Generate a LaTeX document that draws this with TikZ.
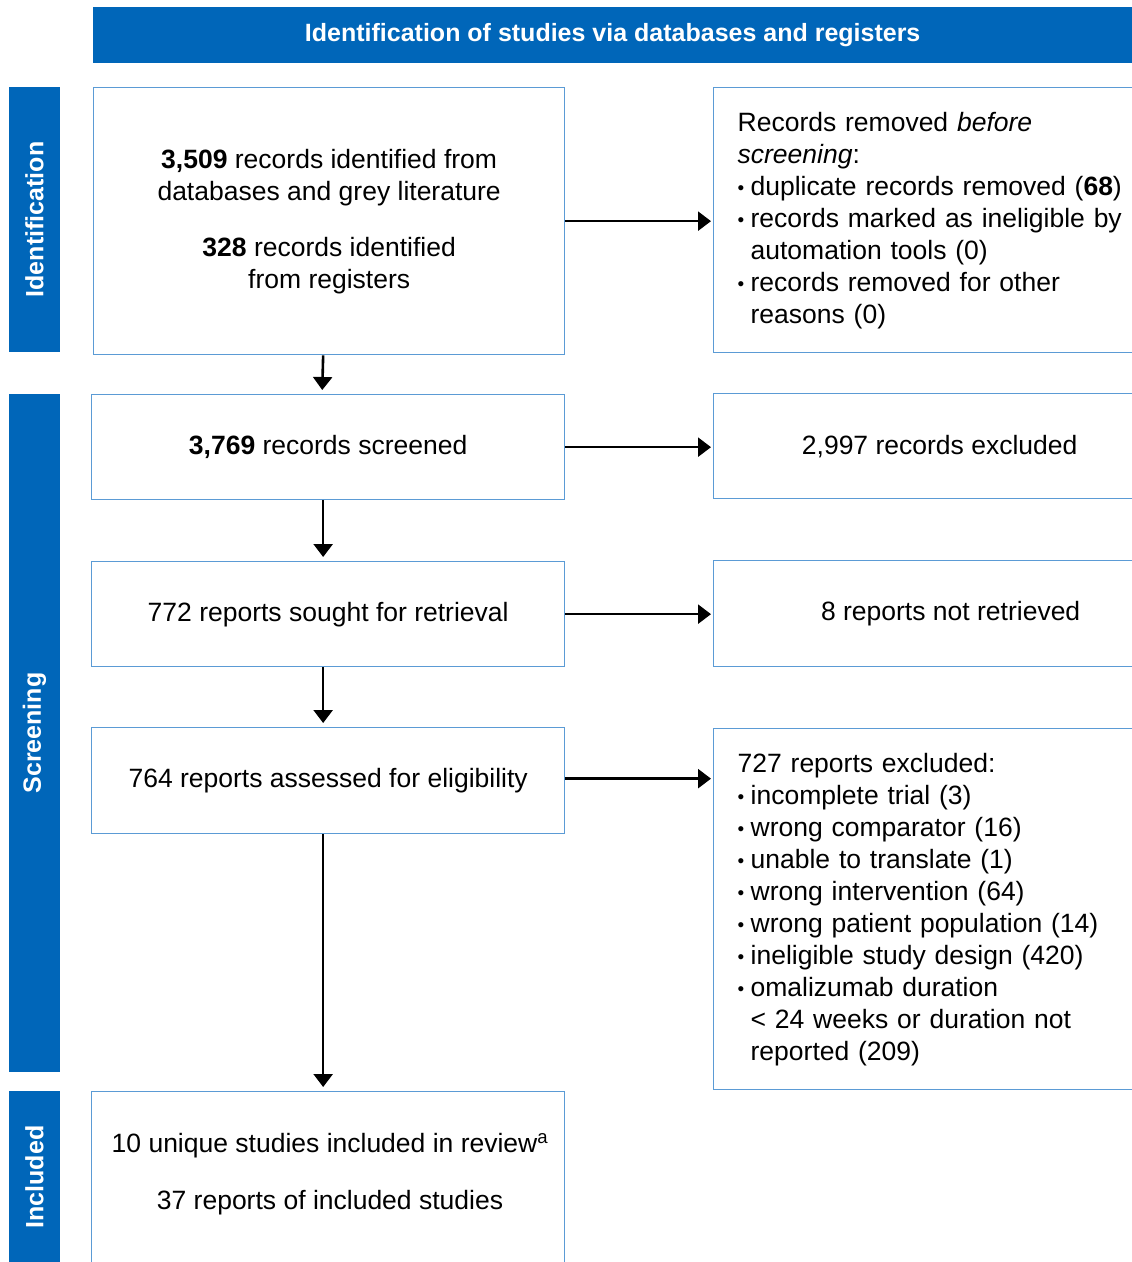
\documentclass[tikz,border=0pt]{standalone}
\usepackage{fontspec}
\setmainfont{Liberation Sans}
\usetikzlibrary{arrows.meta,positioning}
\definecolor{prismablue}{RGB}{0,102,185}
\definecolor{boxline}{RGB}{91,155,213}
\newcommand{\itm}{\makebox[13pt][l]{\raisebox{1pt}{\fontsize{19}{19}\selectfont\textbullet}}}
\newcommand{\ind}{\hspace*{13pt}}
\tikzset{
  box/.style={draw=boxline, line width=1.3pt, inner sep=0pt, align=center, font=\fontsize{26.5}{32}\selectfont},
  listbox/.style={box, align=left, inner xsep=24pt, text width=395pt},
  bar/.style={fill=prismablue, text=white, inner sep=0pt, font=\bfseries\fontsize{25}{30}\selectfont},
  flow/.style={line width=2.6pt, -{Triangle[length=13pt,width=19pt]}},
}
\begin{document}
\begin{tikzpicture}[x=1pt,y=-1pt]
\useasboundingbox (0,0) rectangle (1132,1262);
% header and phase bars
\node[bar, minimum width=1039pt, minimum height=56pt, anchor=north west] (head) at (93,7) {Identification of studies via databases and registers};
\node[bar, rotate=90, minimum width=265pt, minimum height=51pt] (idbar) at (34.5,219.5) {Identification};
\node[bar, rotate=90, minimum width=678pt, minimum height=51pt] (scbar) at (34.5,733) {Screening};
\node[bar, rotate=90, minimum width=172pt, minimum height=51pt] (inbar) at (34.5,1177) {Included};

% left column
\node[box, minimum width=471pt, minimum height=267pt, anchor=north west] (ident) at (93,87)
  {\textbf{3,509} records identified from\\databases and grey literature\\[24pt]\textbf{328} records identified\\from registers};
\node[box, minimum width=473pt, minimum height=105pt, anchor=north west] (screen) at (91,394) {\textbf{3,769} records screened};
\node[box, minimum width=473pt, minimum height=105pt, anchor=north west] (retr) at (91,561) {772 reports sought for retrieval};
\node[box, minimum width=473pt, minimum height=106pt, anchor=north west] (elig) at (91,727) {764 reports assessed for eligibility};
\node[box, minimum width=473pt, minimum height=200pt, anchor=north west] (incl) at (91,1091) {};
\node[align=center, font=\fontsize{26.5}{32}\selectfont, inner sep=0pt] (incltext) at (330,1174)
  {10 unique studies included in review\textsuperscript{a}\\[25pt]37 reports of included studies};

% right column
\node[listbox, minimum height=265pt, anchor=north west] (rem) at (713,87)
  {Records removed \textit{before}\\\textit{screening}:\\
   \itm duplicate records removed (\textbf{68})\\
   \itm records marked as ineligible by\\\ind automation tools (0)\\
   \itm records removed for other\\\ind reasons (0)};
\node[box, minimum width=452pt, minimum height=105pt, anchor=north west] (excl) at (713,393) {2,997 records excluded};
\node[box, minimum width=474pt, minimum height=106pt, anchor=north west] (notret) at (713,560) {8 reports not retrieved};
\node[listbox, minimum height=361pt, anchor=north west] (repexcl) at (713,728)
  {727 reports excluded:\\
   \itm incomplete trial (3)\\
   \itm wrong comparator (16)\\
   \itm unable to translate (1)\\
   \itm wrong intervention (64)\\
   \itm wrong patient population (14)\\
   \itm ineligible study design (420)\\
   \itm omalizumab duration\\\ind < 24 weeks or duration not\\\ind reported (209)};

% arrows
\draw[flow, shorten >=4pt] ([xshift=-6pt]ident.south) -- ([xshift=-6pt]screen.north);
\draw[flow, shorten >=4pt] ([xshift=-5pt]screen.south) -- ([xshift=-5pt]retr.north);
\draw[flow, shorten >=4pt] ([xshift=-5pt]retr.south) -- ([xshift=-5pt]elig.north);
\draw[flow, shorten >=4pt] ([xshift=-5pt]elig.south) -- ([xshift=-5pt]incl.north);
\draw[flow, shorten >=2pt] (ident.east) -- (ident.east -| rem.west);
\draw[flow, shorten >=2pt] (screen.east) -- (screen.east -| excl.west);
\draw[flow, shorten >=2pt] (retr.east) -- (retr.east -| notret.west);
\draw[flow, shorten >=2pt] ([yshift=2pt]elig.east) -- ([yshift=2pt]elig.east -| repexcl.west);
\end{tikzpicture}
\end{document}
